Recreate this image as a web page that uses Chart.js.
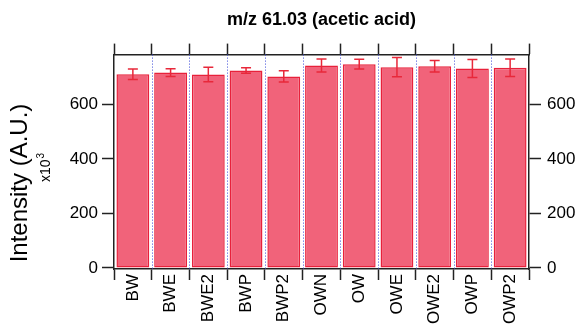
<!DOCTYPE html>
<html>
<head>
<meta charset="utf-8">
<script src="https://cdn.jsdelivr.net/npm/chart.js@4"></script>
<style>
  html, body { margin: 0; padding: 0; background: #fff; }
</style>
</head>
<body>
<canvas id="chart" width="577" height="336"></canvas>
<script>
// --- data ---
const CATEGORIES = ['BW', 'BWE', 'BWE2', 'BWP', 'BWP2', 'OWN', 'OW', 'OWE', 'OWE2', 'OWP', 'OWP2'];
const INTENSITY  = [711, 717, 710, 725, 703, 743, 748, 737, 740, 732, 735];   // x10^3
const ERRORS     = [19, 14, 27, 10, 21, 24, 18, 35, 21, 33, 32];
const Y_TICKS    = [0, 200, 400, 600];

const FONT = '"Liberation Sans", Arial, Helvetica, sans-serif';
const AXIS = '#222';
const BAR_FILL = '#f1637a';
const BAR_EDGE = '#e8213b';
const ERR_COLOR = '#e8283a';
const SEP_COLOR = '#3a48d8';

// dotted blue separators between categories (midway between bar centres)
const separators = {
  id: 'separators',
  beforeDatasetsDraw(chart) {
    const { ctx, chartArea } = chart;
    const x = chart.scales.x;
    ctx.save();
    ctx.strokeStyle = SEP_COLOR;
    ctx.lineWidth = 1;
    ctx.setLineDash([1, 2]);
    for (let i = 1; i < CATEGORIES.length; i++) {
      const px = Math.round((x.getPixelForValue(i - 1) + x.getPixelForValue(i)) / 2) + 0.5;
      ctx.beginPath();
      ctx.moveTo(px, chartArea.top);
      ctx.lineTo(px, chartArea.bottom);
      ctx.stroke();
    }
    ctx.restore();
  }
};

// error bars drawn from the y scale
const errorBars = {
  id: 'errorBars',
  afterDatasetsDraw(chart) {
    const { ctx } = chart;
    const y = chart.scales.y;
    const meta = chart.getDatasetMeta(0);
    ctx.save();
    ctx.strokeStyle = ERR_COLOR;
    ctx.lineWidth = 1.5;
    meta.data.forEach((bar, i) => {
      const v = INTENSITY[i], e = ERRORS[i];
      const top = y.getPixelForValue(v + e);
      const bot = y.getPixelForValue(v - e);
      const cap = 5;
      ctx.beginPath();
      ctx.moveTo(bar.x, top); ctx.lineTo(bar.x, bot);
      ctx.moveTo(bar.x - cap, top); ctx.lineTo(bar.x + cap, top);
      ctx.moveTo(bar.x - cap, bot); ctx.lineTo(bar.x + cap, bot);
      ctx.stroke();
    });
    ctx.restore();
  }
};

// rotated y title with the x10^3 multiplier
const yTitle = {
  id: 'yTitle',
  afterDraw(chart) {
    const { ctx } = chart;
    ctx.save();
    ctx.fillStyle = '#000';
    ctx.translate(20, 183);
    ctx.rotate(-Math.PI / 2);
    ctx.textAlign = 'center';
    ctx.textBaseline = 'middle';
    ctx.font = '24px ' + FONT;
    ctx.fillText('Intensity (A.U.)', 0, 0);
    ctx.restore();

    ctx.save();
    ctx.fillStyle = '#000';
    ctx.translate(50, 182);
    ctx.rotate(-Math.PI / 2);
    ctx.textAlign = 'left';
    ctx.textBaseline = 'alphabetic';
    ctx.font = '14px ' + FONT;
    ctx.fillText('x10', 0, 0);
    const w = ctx.measureText('x10').width;
    ctx.font = '10px ' + FONT;
    ctx.fillText('3', w + 1, -6);
    ctx.restore();
  }
};

const yAxis = (position, width, pad) => ({
  position,
  min: -4,
  max: 783,
  afterBuildTicks: s => { s.ticks = Y_TICKS.map(v => ({ value: v })); },
  afterFit: s => { s.width = width; },
  grid: { drawOnChartArea: false, drawTicks: true, tickLength: 12, tickColor: AXIS, tickWidth: 1.5 },
  border: { display: true, color: AXIS, width: 1.5 },
  ticks: { padding: pad, color: '#000', font: { family: FONT, size: 17 } }
});

new Chart(document.getElementById('chart'), {
  type: 'bar',
  data: {
    labels: CATEGORIES,
    datasets: [{
      data: INTENSITY,
      backgroundColor: BAR_FILL,
      borderColor: BAR_EDGE,
      borderWidth: 1.5,
      borderSkipped: false,
      barPercentage: 0.87,
      categoryPercentage: 1.0,
      yAxisID: 'y',
      xAxisID: 'x'
    }]
  },
  options: {
    responsive: false,
    animation: false,
    layout: { padding: 0 },
    plugins: {
      legend: { display: false },
      tooltip: { enabled: false },
      title: {
        display: true,
        text: 'm/z 61.03 (acetic acid)',
        fullSize: false,
        color: '#000',
        font: { family: FONT, size: 18, weight: 'bold' },
        padding: { top: 9, bottom: 13 }
      }
    },
    scales: {
      x: {
        position: 'bottom',
        offset: true,
        afterFit: s => { s.height = 67; },
        grid: { offset: true, drawOnChartArea: false, drawTicks: true, tickLength: 11, tickColor: AXIS, tickWidth: 1.5 },
        border: { display: true, color: AXIS, width: 1.5 },
        ticks: { minRotation: 90, maxRotation: 90, padding: -6, autoSkip: false, color: '#000', font: { family: FONT, size: 17 } }
      },
      xTop: {
        type: 'category',
        position: 'top',
        offset: true,
        afterFit: s => { s.height = 11; },
        grid: { offset: true, drawOnChartArea: false, drawTicks: true, tickLength: 11, tickColor: AXIS, tickWidth: 1.5 },
        border: { display: true, color: AXIS, width: 1.5 },
        ticks: { display: false }
      },
      y: yAxis('left', 114, 4),
      yRight: yAxis('right', 48, 6)
    }
  },
  plugins: [separators, errorBars, yTitle]
});
</script>
</body>
</html>
